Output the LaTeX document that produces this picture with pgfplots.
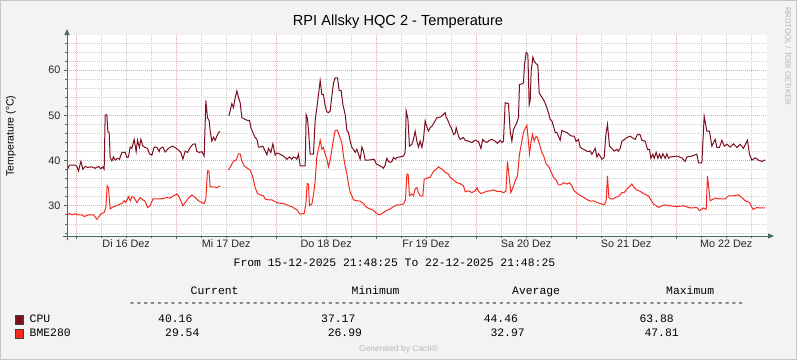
\documentclass[border=0pt]{standalone}
\usepackage{fontspec}
\setmainfont{Liberation Sans}
\newfontfamily\monofont{Liberation Mono}
\usepackage{pgfplots}
\usepackage{pgfplotstable}
\pgfplotsset{compat=1.18}
\usetikzlibrary{arrows.meta}
\definecolor{bg}{HTML}{F3F3F3}
\definecolor{cpu}{HTML}{7D0E20}
\definecolor{bme}{HTML}{F52A1E}
\definecolor{axiscol}{HTML}{4C6B5F}
\definecolor{mgrid}{HTML}{E2A8A8}
\definecolor{mingrid}{HTML}{D0D0D0}

\pgfplotstableread{
x y
-0.093 37.7
-0.067 39.0
-0.01 39.0
0.007 38.7
0.023 37.7
0.047 39.8
0.067 38.1
0.09 38.7
0.113 38.5
0.157 38.6
0.19 38.3
0.223 38.7
0.247 38.2
0.267 38.6
0.28 38.1
0.29 50.1
0.307 50.1
0.317 46.4
0.33 46.2
0.34 40.7
0.357 39.9
0.373 40.8
0.39 40.1
0.413 40.5
0.433 40.3
0.457 41.8
0.49 41.8
0.507 40.7
0.523 40.8
0.54 43.0
0.557 42.7
0.58 44.7
0.6 42.0
0.613 44.5
0.633 42.9
0.647 44.7
0.667 43.2
0.69 42.9
0.713 42.7
0.733 41.5
0.757 41.2
0.78 43.0
0.807 42.9
0.83 42.0
0.84 42.7
0.867 43.0
0.89 41.9
0.923 42.7
0.957 43.2
0.99 42.9
1.023 42.3
1.047 41.8
1.067 40.3
1.09 42.1
1.113 41.8
1.14 42.9
1.167 43.6
1.19 43.7
1.207 42.0
1.233 41.8
1.257 42.0
1.28 41.0
1.297 53.3
1.313 49.5
1.33 48.8
1.34 46.5
1.357 44.3
1.373 45.2
1.39 44.5
1.407 45.4
1.423 46.2
1.44 46.5
1.48 nan
1.527 49.9
1.54 51.0
1.557 52.6
1.573 51.7
1.59 53.9
1.607 55.4
1.623 54.0
1.64 52.8
1.657 49.5
1.69 49.1
1.713 48.9
1.733 48.9
1.747 47.3
1.767 46.2
1.79 45.1
1.807 44.7
1.823 43.0
1.84 43.0
1.867 43.2
1.89 42.1
1.907 41.3
1.923 42.7
1.947 41.8
1.967 43.7
1.99 41.2
2.007 41.7
2.04 41.4
2.073 41.0
2.107 40.3
2.133 40.8
2.157 40.3
2.173 40.8
2.19 40.7
2.207 40.3
2.223 41.4
2.24 38.8
2.29 38.8
2.3 50.1
2.313 49.3
2.323 46.7
2.34 41.4
2.373 41.4
2.39 49.0
2.407 51.7
2.423 54.6
2.44 57.7
2.457 54.6
2.473 54.6
2.49 52.1
2.507 50.8
2.523 50.6
2.54 51.0
2.557 54.3
2.573 57.2
2.59 58.3
2.613 58.3
2.63 55.5
2.65 55.5
2.667 52.4
2.69 50.2
2.707 46.7
2.723 46.2
2.74 44.3
2.757 42.9
2.773 42.5
2.79 41.8
2.807 42.5
2.823 41.4
2.84 40.3
2.857 43.0
2.873 42.1
2.89 40.1
2.923 40.1
2.98 40.3
3.0 39.3
3.023 39.0
3.057 38.6
3.073 38.3
3.09 39.0
3.107 40.5
3.123 39.8
3.14 39.6
3.157 39.8
3.173 40.7
3.19 40.3
3.207 40.7
3.24 40.8
3.273 41.0
3.29 41.8
3.3 51.0
3.317 49.3
3.333 43.2
3.357 43.6
3.373 44.7
3.39 46.5
3.407 44.3
3.423 43.0
3.44 44.3
3.457 42.9
3.473 44.7
3.49 48.8
3.507 47.4
3.523 46.5
3.54 47.3
3.557 47.6
3.573 48.2
3.59 48.8
3.607 49.5
3.64 49.6
3.657 49.9
3.673 50.2
3.69 50.6
3.7 49.6
3.713 49.1
3.733 48.0
3.757 46.9
3.773 45.8
3.79 46.0
3.8 47.3
3.823 45.4
3.84 44.7
3.873 45.1
3.89 44.5
3.923 44.3
3.957 44.0
3.99 44.5
4.023 44.2
4.047 42.7
4.067 44.7
4.08 44.3
4.107 44.0
4.133 44.5
4.157 44.7
4.19 44.3
4.213 43.8
4.24 44.5
4.257 44.0
4.273 44.3
4.29 52.8
4.323 52.6
4.34 46.5
4.357 44.3
4.373 46.9
4.39 47.6
4.407 48.4
4.423 49.5
4.433 56.8
4.457 57.0
4.473 57.2
4.483 61.2
4.5 63.9
4.517 63.5
4.53 52.4
4.54 53.2
4.55 59.8
4.567 62.9
4.58 62.0
4.593 61.6
4.617 61.1
4.63 55.0
4.657 54.0
4.68 53.2
4.7 52.1
4.723 50.6
4.74 49.1
4.757 48.8
4.773 47.6
4.79 46.2
4.807 46.2
4.823 45.4
4.84 44.5
4.857 46.7
4.88 46.4
4.907 46.2
4.933 45.7
4.957 45.4
4.98 45.4
5.0 44.2
5.023 44.7
5.04 43.0
5.057 42.7
5.09 42.3
5.113 42.0
5.14 42.1
5.157 41.4
5.173 42.0
5.19 42.7
5.207 40.8
5.223 41.5
5.24 41.0
5.257 40.3
5.28 40.7
5.297 45.8
5.313 48.0
5.333 43.2
5.357 42.7
5.38 42.1
5.407 42.5
5.423 42.1
5.44 42.7
5.457 44.3
5.473 44.5
5.507 45.1
5.54 45.4
5.557 45.1
5.59 44.7
5.613 45.8
5.64 45.7
5.657 44.5
5.69 44.3
5.713 42.5
5.733 42.5
5.747 40.5
5.767 41.4
5.78 40.5
5.8 41.8
5.817 40.5
5.833 41.4
5.85 40.5
5.867 41.5
5.89 40.5
5.907 41.5
5.923 40.5
5.94 40.8
6.007 41.0
6.057 40.6
6.09 39.8
6.107 40.8
6.157 41.0
6.207 41.4
6.223 39.5
6.257 39.5
6.28 49.8
6.307 46.5
6.333 46.5
6.357 43.2
6.39 44.7
6.407 42.9
6.433 42.9
6.457 44.5
6.48 43.2
6.507 43.6
6.54 43.0
6.573 43.7
6.607 42.9
6.64 43.6
6.673 42.7
6.713 44.5
6.733 41.4
6.757 40.1
6.79 40.6
6.823 40.1
6.857 39.8
6.89 40.16
}\cpudata

\pgfplotstableread{
x y
-0.093 27.8
-0.067 28.3
-0.043 28.0
-0.01 28.2
0.023 28.0
0.057 28.0
0.08 27.6
0.123 28.0
0.173 28.0
0.207 27.0
0.223 27.4
0.247 28.2
0.28 28.5
0.297 29.6
0.31 34.4
0.323 34.0
0.34 29.3
0.373 29.8
0.423 30.2
0.457 30.5
0.48 31.1
0.497 30.7
0.523 32.0
0.54 31.1
0.557 32.0
0.58 31.8
0.607 30.7
0.64 31.8
0.667 31.3
0.69 31.0
0.713 29.6
0.74 30.0
0.767 31.5
0.807 31.5
0.84 31.5
0.907 31.8
0.94 31.7
0.973 32.2
1.007 32.6
1.023 32.2
1.047 31.1
1.067 30.0
1.09 30.7
1.123 31.7
1.157 32.4
1.19 31.8
1.223 31.1
1.257 30.7
1.28 30.5
1.297 31.5
1.313 37.7
1.327 37.7
1.34 34.2
1.373 34.2
1.407 34.0
1.44 34.4
1.48 nan
1.523 37.9
1.547 38.8
1.573 39.9
1.6 40.1
1.623 41.5
1.64 41.5
1.657 39.9
1.68 38.8
1.713 38.3
1.74 37.9
1.767 36.3
1.79 34.0
1.813 32.7
1.84 32.4
1.873 32.2
1.89 31.5
1.923 31.3
1.957 31.3
1.99 30.9
2.023 30.6
2.057 30.5
2.09 30.4
2.123 30.0
2.157 29.8
2.19 29.3
2.213 29.0
2.233 28.2
2.257 28.2
2.28 28.3
2.297 30.4
2.31 34.9
2.323 34.8
2.333 30.0
2.357 30.4
2.373 32.4
2.39 35.5
2.407 41.0
2.423 42.5
2.44 44.5
2.457 42.5
2.473 42.9
2.49 41.4
2.507 40.3
2.523 38.6
2.54 40.1
2.557 42.5
2.573 44.7
2.59 46.7
2.613 46.7
2.633 45.4
2.657 43.9
2.673 41.0
2.69 38.8
2.707 37.1
2.723 34.8
2.74 33.0
2.757 32.2
2.773 31.3
2.807 31.1
2.84 31.0
2.873 30.5
2.907 29.6
2.94 29.3
2.973 29.0
3.007 28.2
3.04 28.0
3.073 28.5
3.107 29.0
3.14 29.3
3.173 29.8
3.207 30.2
3.24 30.2
3.273 30.4
3.293 31.3
3.307 37.0
3.32 37.0
3.333 32.2
3.357 32.6
3.373 32.2
3.39 33.7
3.407 34.0
3.423 32.9
3.44 32.2
3.467 32.2
3.48 35.9
3.507 36.1
3.54 36.3
3.557 37.0
3.573 37.6
3.6 38.1
3.623 38.6
3.657 38.1
3.69 37.4
3.723 37.0
3.74 36.3
3.773 35.7
3.807 35.1
3.84 34.9
3.873 34.4
3.89 33.1
3.923 33.3
3.957 32.9
3.99 33.3
4.007 34.0
4.023 33.2
4.047 32.7
4.073 32.9
4.107 33.2
4.14 33.3
4.173 33.5
4.207 33.2
4.24 33.2
4.273 32.9
4.297 33.2
4.313 39.8
4.33 36.3
4.347 32.9
4.367 34.0
4.39 35.5
4.413 36.6
4.433 41.4
4.457 44.3
4.473 46.2
4.49 47.1
4.507 47.8
4.523 44.2
4.533 41.5
4.547 43.9
4.563 45.8
4.58 44.3
4.6 45.4
4.613 45.1
4.633 43.6
4.657 41.8
4.68 40.7
4.7 39.2
4.723 38.8
4.747 37.6
4.773 36.3
4.8 35.7
4.823 34.6
4.847 34.6
4.873 35.1
4.907 34.8
4.933 35.1
4.957 34.4
4.98 33.3
5.013 32.7
5.047 32.2
5.08 31.8
5.113 31.3
5.147 31.0
5.173 31.1
5.207 30.7
5.24 30.5
5.28 30.2
5.3 31.1
5.313 36.6
5.327 31.8
5.347 31.5
5.367 31.5
5.39 31.8
5.413 32.0
5.433 32.2
5.457 32.9
5.48 32.9
5.507 33.7
5.533 34.2
5.557 34.8
5.58 34.0
5.607 33.5
5.64 33.2
5.673 32.7
5.7 32.4
5.723 32.2
5.747 31.3
5.773 30.4
5.8 30.0
5.823 29.6
5.857 30.0
5.89 30.2
5.923 30.0
5.94 30.0
6.007 29.8
6.073 30.0
6.14 29.5
6.207 29.6
6.233 28.9
6.273 29.5
6.3 29.2
6.313 36.6
6.34 31.1
6.39 31.7
6.44 31.5
6.49 31.5
6.523 32.2
6.573 32.2
6.623 32.4
6.657 31.8
6.69 31.1
6.733 30.7
6.767 29.2
6.807 29.6
6.84 29.5
6.89 29.54
}\bmedata

\newcommand\mono{\monofont\fontsize{11.4}{13}\selectfont}

\begin{document}
\begin{tikzpicture}
\useasboundingbox (0pt,0pt) rectangle (797pt,360pt);
\fill[bg] (0pt,0pt) rectangle (797pt,360pt);
\draw[gray!45, line width=1pt] (0.5pt,0.5pt) rectangle (796.5pt,359.5pt);

\begin{axis}[
  at={(67pt,124pt)}, anchor=south west,
  scale only axis, width=700pt, height=201pt,
  xmin=-0.0917, xmax=6.9083, ymin=23.3, ymax=67.8,
  axis background/.style={fill=white},
  axis line style={draw=none},
  tick align=outside, xtick pos=bottom, ytick pos=left,
  xtick={0,1,...,6}, xticklabels={},
  minor xtick={0,0.25,...,6.75},
  ytick={30,40,50,60},
  minor ytick={24,26,...,66},
  major tick length=3pt, minor tick length=2pt,
  every tick/.style={axiscol, line width=0.6pt},
  grid=both,
  major grid style={mgrid, dash pattern=on 1pt off 1pt, line width=0.6pt},
  minor grid style={mingrid, dash pattern=on 1pt off 1pt, line width=0.6pt},
  extra x ticks={0.5,1.5,2.5,3.5,4.5,5.5,6.5},
  extra x tick labels={Di 16 Dez, Mi 17 Dez, Do 18 Dez, Fr 19 Dez, Sa 20 Dez, So 21 Dez, Mo 22 Dez},
  extra x tick style={grid=none, major tick length=0pt},
  tick label style={font=\fontsize{10.8}{12}\selectfont, text=black!85},
  /pgf/number format/assume math mode=true,
  unbounded coords=jump,
]
\addplot[cpu, line width=1pt, no marks] table[x=x, y=y] {\cpudata};
\addplot[bme, line width=1pt, no marks] table[x=x, y=y] {\bmedata};
\end{axis}

\draw[axiscol, line width=0.9pt, -{Triangle[length=6pt,width=5pt]}] (67pt,120pt) -- (67pt,331pt);
\draw[axiscol, line width=0.9pt, -{Triangle[length=6pt,width=5pt]}] (63pt,124pt) -- (774pt,124pt);

\node[font=\fontsize{14.6}{16}\selectfont] at (398pt,338pt) {RPI Allsky HQC 2 - Temperature};
\node[rotate=90, font=\fontsize{10.5}{12}\selectfont] at (11pt,224pt) {Temperature (°C)};
\node[rotate=-90, font=\fontsize{7.7}{9}\selectfont, text=black!30] at (788pt,304pt) {RRDTOOL / TOBI OETIKER};

\node[anchor=base west, inner sep=0, font=\mono] at (233.5pt,93.5pt) {From 15-12-2025 21:48:25 To 22-12-2025 21:48:25};

\node[anchor=base west, inner sep=0, font=\mono] at (190.5pt,65.5pt) {Current};
\node[anchor=base west, inner sep=0, font=\mono] at (351.5pt,65.5pt) {Minimum};
\node[anchor=base west, inner sep=0, font=\mono] at (512pt,65.5pt) {Average};
\node[anchor=base west, inner sep=0, font=\mono] at (666pt,65.5pt) {Maximum};
\node[anchor=base west, inner sep=0, font=\mono] at (128.5pt,53.5pt) {\foreach \i in {1,...,90}{-\kern0pt}};

\fill[cpu, draw=black!75, line width=0.6pt] (15.5pt,36pt) rectangle (23.5pt,45pt);
\fill[bme, draw=black!75, line width=0.6pt] (15.5pt,22pt) rectangle (23.5pt,31pt);

\node[anchor=base west, inner sep=0, font=\mono] at (29.5pt,37.5pt) {CPU};
\node[anchor=base west, inner sep=0, font=\mono] at (158pt,37.5pt) {40.16};
\node[anchor=base west, inner sep=0, font=\mono] at (321pt,37.5pt) {37.17};
\node[anchor=base west, inner sep=0, font=\mono] at (483.6pt,37.5pt) {44.46};
\node[anchor=base west, inner sep=0, font=\mono] at (639.3pt,37.5pt) {63.88};

\node[anchor=base west, inner sep=0, font=\mono] at (29.5pt,23.5pt) {BME280};
\node[anchor=base west, inner sep=0, font=\mono] at (165pt,23.5pt) {29.54};
\node[anchor=base west, inner sep=0, font=\mono] at (327.6pt,23.5pt) {26.99};
\node[anchor=base west, inner sep=0, font=\mono] at (490.3pt,23.5pt) {32.97};
\node[anchor=base west, inner sep=0, font=\mono] at (644.3pt,23.5pt) {47.81};

\node[font=\fontsize{8.4}{10}\selectfont, text=black!28] at (398.5pt,11pt) {Generated by Cacti®};
\end{tikzpicture}
\end{document}
